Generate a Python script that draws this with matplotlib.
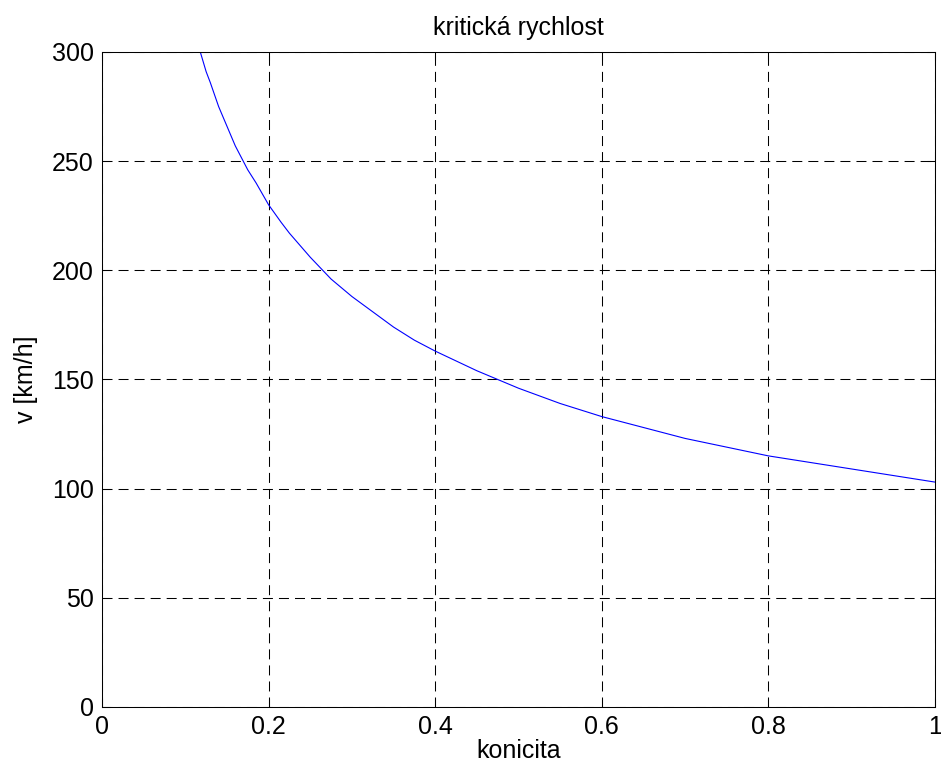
import matplotlib
matplotlib.use("Agg")
import matplotlib.pyplot as plt

# konicita vs. kritická rychlost, odečteno po bodech
konicita = [0.118, 0.125, 0.13, 0.14, 0.15, 0.16, 0.175, 0.185, 0.2, 0.215,
            0.225, 0.25, 0.275, 0.3, 0.325, 0.35, 0.375, 0.4, 0.45, 0.5,
            0.55, 0.6, 0.65, 0.7, 0.75, 0.8, 0.85, 0.9, 0.95, 1.0]
rychlost = [300, 291, 286, 275, 266, 257, 246, 240, 230, 222,
            217, 206, 196, 188, 181, 174, 168, 163, 154, 146,
            139, 133, 128, 123, 119, 115, 112, 109, 106, 103]

x_ticks = [0, 0.2, 0.4, 0.6, 0.8, 1]
x_labels = ["0", "0.2", "0.4", "0.6", "0.8", "1"]
y_ticks = [0, 50, 100, 150, 200, 250, 300]

plt.rcParams["font.family"] = ["Liberation Sans", "DejaVu Sans"]

fig = plt.figure(figsize=(9.41, 7.78), dpi=100)
ax = fig.add_axes([0.1084, 0.0913, 0.8852, 0.8419])

ax.plot(konicita, rychlost, color="#0000ff", lw=0.8)

ax.set_xlim(0, 1)
ax.set_ylim(0, 300)
ax.set_xticks(x_ticks)
ax.set_xticklabels(x_labels)
ax.set_yticks(y_ticks)

# mřížka jako v MATLABu - čárkovaná černá
ax.grid(True, color="black", linestyle=(0, (9.6, 5.8)), lw=0.75)
ax.tick_params(direction="in", length=6, width=0.75, top=True, right=True,
               labelsize=18, pad=6, colors="black")
for s in ax.spines.values():
    s.set_linewidth(0.75)
    s.set_color("black")

ax.set_title("kritická rychlost", fontsize=18, pad=12)
ax.set_xlabel("konicita", fontsize=18, labelpad=0)
ax.set_ylabel("v [km/h]", fontsize=18, labelpad=10)

fig.savefig("out.png", dpi=100)
